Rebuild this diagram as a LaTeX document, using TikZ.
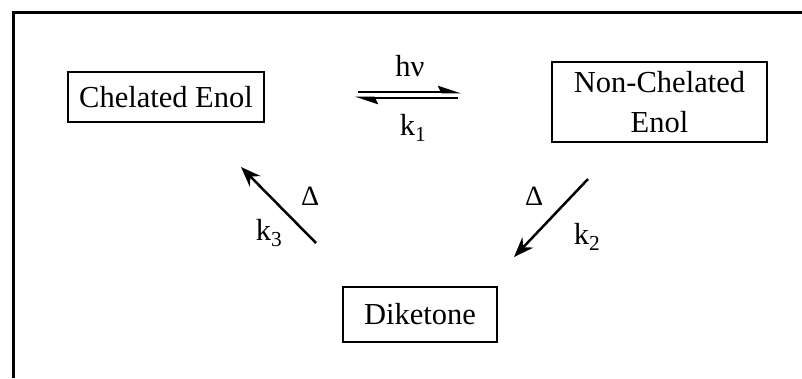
\documentclass[tikz,border=0pt]{standalone}
\usepackage{fontspec}
\setmainfont{Liberation Serif}
\usetikzlibrary{positioning, arrows.meta}

\begin{document}
\begin{tikzpicture}[
		x=1pt, y=-1pt,
		>=Stealth,
		species/.style={draw, rectangle, line width=1.5pt, align=center, inner sep=0pt, font=\fontsize{30.5}{40}\selectfont},
		lbl/.style={inner sep=0pt, font=\fontsize{30.5}{36}\selectfont},
		heat/.style={inner sep=0pt, font=\fontsize{28}{32}\selectfont},
		react/.style={line width=2.5pt, -{Stealth[length=20pt, width=15pt]}},
		eq/.style={line width=2pt, -{Stealth[harpoon, length=20pt, width=13pt, inset=3pt]}}
		]
		
		\useasboundingbox (0,0) rectangle (802,378);
		
		% 0. Frame (top and left only)
		\draw[line width=3pt] (802,12) -- (13,12) -- (13,378);
		
		% 1. Chelated enol
		\node[species, minimum width=196pt, minimum height=50pt] (chel) at (166,97) {Chelated Enol};
		
		% 2. Non-chelated enol
		\node[species, minimum width=215pt, minimum height=80pt] (nonchel) at (659.5,102) {Non-Chelated\\Enol};
		
		% 3. Diketone
		\node[species, minimum width=154pt, minimum height=55pt] (dik) at (420,314.5) {Diketone};
		
		% Arrow ends
		\coordinate (eqTopL) at (358,92.3);
		\coordinate (eqTopR) at (461,92.3);
		\coordinate (eqBotR) at (458,97.7);
		\coordinate (eqBotL) at (355,97.7);
		\coordinate (kTwoS) at (588,179);
		\coordinate (kTwoE) at (514,257);
		\coordinate (kThreeS) at (316,243);
		\coordinate (kThreeE) at (241,167);
		
		% Arrows
		\draw[eq] (eqTopL) -- (eqTopR);
		\draw[eq] (eqBotR) -- (eqBotL);
		\draw[react] (kTwoS) -- (kTwoE);
		\draw[react] (kThreeS) -- (kThreeE);
		
		% Labels
		\node[lbl] (hnu) at (410,66) {hν};
		\node[lbl] (kOne) at (413,128) {k\textsubscript{1}};
		\node[heat] (dTwo) at (534,196) {Δ};
		\node[lbl] (kTwo) at (587,237) {k\textsubscript{2}};
		\node[heat] (dThree) at (310,196) {Δ};
		\node[lbl] (kThree) at (269,233) {k\textsubscript{3}};
		
	\end{tikzpicture}
\end{document}
